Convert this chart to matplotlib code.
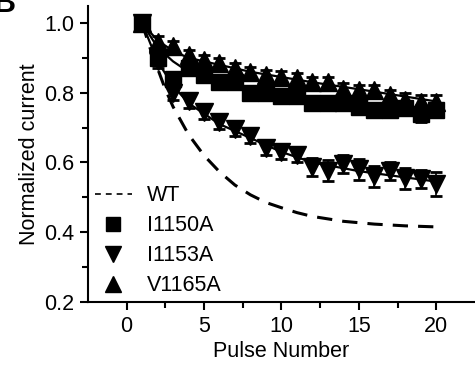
import matplotlib
matplotlib.use("Agg")
import matplotlib.pyplot as plt
import numpy as np

plt.rcParams["font.family"] = ["Liberation Sans", "DejaVu Sans"]

pulse = np.arange(1, 21)

# values
i1150a = [1.00, 0.90, 0.84, 0.87, 0.85, 0.83, 0.83, 0.80, 0.80, 0.79,
          0.79, 0.77, 0.77, 0.77, 0.76, 0.75, 0.75, 0.755, 0.74, 0.75]
i1150a_err = [0.0, 0.02, 0.02, 0.02, 0.02, 0.02, 0.02, 0.015, 0.015, 0.015,
              0.015, 0.015, 0.015, 0.02, 0.02, 0.02, 0.02, 0.02, 0.025, 0.02]
i1153a = [1.00, 0.89, 0.80, 0.775, 0.745, 0.717, 0.697, 0.677, 0.64, 0.63,
          0.62, 0.587, 0.576, 0.595, 0.58, 0.56, 0.576, 0.555, 0.552, 0.538]
i1153a_err = [0.0, 0.02, 0.02, 0.02, 0.02, 0.02, 0.02, 0.02, 0.02, 0.02,
              0.02, 0.025, 0.03, 0.025, 0.03, 0.03, 0.025, 0.03, 0.025, 0.035]
v1165a = [1.00, 0.947, 0.933, 0.909, 0.894, 0.884, 0.87, 0.86, 0.85, 0.846,
          0.841, 0.831, 0.831, 0.812, 0.807, 0.807, 0.793, 0.778, 0.774, 0.774]
v1165a_err = [0.0, 0.015, 0.015, 0.015, 0.015, 0.015, 0.015, 0.015, 0.015, 0.015,
              0.015, 0.015, 0.015, 0.015, 0.015, 0.015, 0.015, 0.02, 0.02, 0.02]

# WT fit (dashed) read at points along the curve
wt_x = [1, 1.5, 2, 2.5, 3, 3.5, 4, 4.5, 5, 6, 7, 8, 9, 10, 11, 12, 14, 16, 18, 20]
wt_y = [1.00, 0.93, 0.87, 0.81, 0.76, 0.72, 0.68, 0.65, 0.62, 0.573, 0.535,
        0.507, 0.485, 0.47, 0.456, 0.445, 0.431, 0.423, 0.418, 0.415]

# solid fits for mutants (mostly hidden behind markers)
fit_x = [1, 2, 3, 4, 6, 8, 10, 12, 15, 20]
fit_i1150a = [1.00, 0.93, 0.89, 0.86, 0.83, 0.81, 0.79, 0.78, 0.765, 0.75]
fit_v1165a = [1.00, 0.95, 0.92, 0.90, 0.88, 0.86, 0.845, 0.83, 0.81, 0.775]
fit_i1153a = [1.00, 0.89, 0.82, 0.77, 0.71, 0.67, 0.63, 0.60, 0.575, 0.545]

fig = plt.figure(figsize=(4.75, 3.74), dpi=100)
ax = fig.add_axes([0.185, 0.193, 0.815, 0.792])

for fy in (fit_i1150a, fit_v1165a, fit_i1153a):
    ax.plot(fit_x, fy, color="black", lw=1.6, zorder=1)

ax.plot(wt_x, wt_y, color="black", lw=2.2, ls=(0, (5, 3.3)), zorder=1)

kw = dict(color="black", ls="none", ms=11, capsize=4.5, elinewidth=1.2,
          capthick=2, zorder=3)
ax.errorbar(pulse, i1150a, yerr=i1150a_err, marker="s", **kw)
ax.errorbar(pulse, i1153a, yerr=i1153a_err, marker="v", **dict(kw, ms=12.5))
ax.errorbar(pulse, v1165a, yerr=v1165a_err, marker="^", **dict(kw, ms=12.5))

h_sq, = ax.plot([], [], "s", color="black", ms=10)
h_dn, = ax.plot([], [], "v", color="black", ms=11.5)
h_up, = ax.plot([], [], "^", color="black", ms=11.5)
h_wt, = ax.plot([], [], color="black", lw=1.2, ls=(0, (3.5, 3)))
ax.legend([h_wt, h_sq, h_dn, h_up], ["WT", "I1150A", "I1153A", "V1165A"],
          loc="lower left", bbox_to_anchor=(-0.015, -0.025), frameon=False,
          fontsize=15.5, handlelength=1.7, handletextpad=0.7, labelspacing=0.42,
          borderaxespad=0.2)

ax.set_xlim(-2.5, 22.5)
ax.set_ylim(0.2, 1.05)
ax.set_xticks([0, 5, 10, 15, 20])
ax.set_xticks([2.5, 7.5, 12.5, 17.5], minor=True)
ax.set_yticks([0.2, 0.4, 0.6, 0.8, 1.0])
ax.set_yticks([0.3, 0.5, 0.7, 0.9], minor=True)
ax.yaxis.set_major_formatter(matplotlib.ticker.FormatStrFormatter("%.1f"))

for side in ("top", "right"):
    ax.spines[side].set_visible(False)
for side in ("left", "bottom"):
    ax.spines[side].set_linewidth(1.5)
ax.tick_params(which="major", direction="out", length=6, width=1.5,
               labelsize=15.5, pad=4)
ax.tick_params(which="minor", direction="out", length=4, width=1.5)

ax.set_xlabel("Pulse Number", fontsize=15.5, labelpad=3)
ax.set_ylabel("Normalized current", fontsize=15.5, labelpad=3)

# panel letter, mostly cut off by the figure edge
fig.text(0.034, 0.95, "B", fontsize=22, fontweight="bold", ha="right",
         va="bottom")

fig.savefig("out.png", dpi=100)
